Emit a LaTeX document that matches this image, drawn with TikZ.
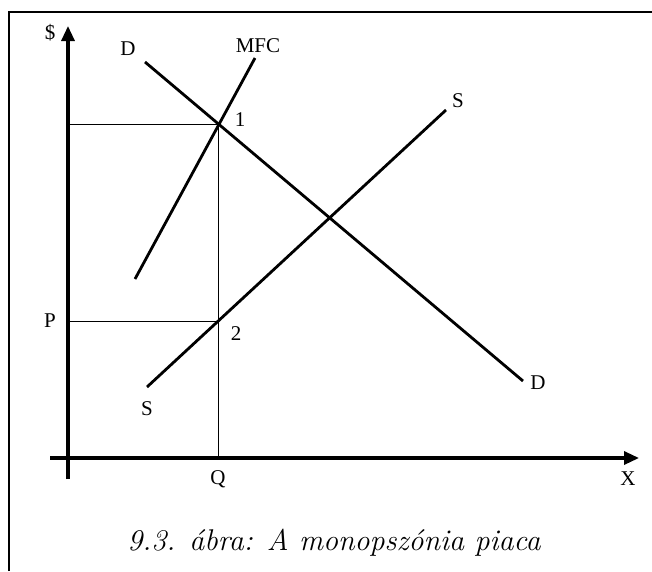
\documentclass[tikz,border=0pt]{standalone}
\usepackage{fontspec}
\newfontfamily\lblfont{Liberation Serif}
\usetikzlibrary{arrows.meta, positioning}

\begin{document}
\begin{tikzpicture}[x=1pt, y=-1pt,
    axis/.style={line width=3.2pt, -{Triangle[length=15pt, width=13pt]}},
    curve/.style={line width=2.8pt},
    guide/.style={line width=0.8pt},
    lbl/.style={font=\lblfont\fontsize{21}{21}\selectfont, inner sep=0pt}]
    \useasboundingbox (0,0) rectangle (652,571);
    % keret
    \draw[line width=2.2pt] (9,571) -- (9,12) -- (652,12);
    % tengelyek
    \coordinate (ybot) at (68,479);
    \coordinate (ytop) at (68,26);
    \coordinate (xleft) at (50,458);
    \coordinate (xright) at (639,458);
    \draw[axis] (ybot) -- (ytop);
    \draw[axis] (xleft) -- (xright);
    \node[lbl] (dollar) at (50,33) {\$};
    \node[lbl] (xlbl) at (628,479) {X};
    % gorbek
    \coordinate (d1) at (145,62);
    \coordinate (d2) at (523,381);
    \coordinate (s1) at (147,387);
    \coordinate (s2) at (446,110);
    \coordinate (m1) at (135,279);
    \coordinate (m2) at (255,58);
    \draw[curve] (d1) -- (d2);
    \draw[curve] (s1) -- (s2);
    \draw[curve] (m1) -- (m2);
    \node[lbl] (dtop) at (128,49) {D};
    \node[lbl] (dbot) at (538,383) {D};
    \node[lbl] (stop) at (458,101) {S};
    \node[lbl] (sbot) at (147,409) {S};
    \node[lbl] (mfc) at (258,46) {MFC};
    % pontok
    \coordinate (p1) at (218,124);
    \coordinate (p2) at (218,321);
    \coordinate (y1) at (68,124);
    \coordinate (y2) at (68,321);
    \coordinate (qx) at (218,458);
    \draw[guide] (y1) -- (p1) -- (qx);
    \draw[guide] (y2) -- (p2);
    \node[lbl] (one) at (240,120) {1};
    \node[lbl] (two) at (236,334) {2};
    \node[lbl] (plbl) at (50,321) {P};
    \node[lbl] (qlbl) at (218,479) {Q};
    % felirat
    \node[font=\fontsize{30}{30}\selectfont\itshape] (cap) at (334,543) {9.3. ábra: A monopszónia piaca};
\end{tikzpicture}
\end{document}
